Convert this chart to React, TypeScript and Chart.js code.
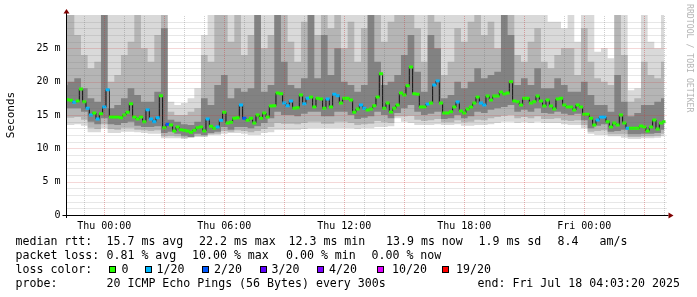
import React, { useEffect, useRef } from 'react';
import { Chart, registerables } from 'chart.js';

Chart.register(...registerables);

const MONO = '"DejaVu Sans Mono", monospace';

// ---- time axis (hours relative to Thu 00:00) ----
const AXIS_START_H = -1.89;
const AXIS_END_H = 28.06;
const MEDIAN_START_H = -11 / 6; // Wed 22:10
const MEDIAN_STEP_H = 1 / 6; // 10 min
const SMOKE_START_H = -2; // Wed 22:00
const SMOKE_STEP_H = 1 / 3; // 20 min

const xTickHours = [0, 6, 12, 18, 24];
const xTickLabels = ['Thu 00:00', 'Thu 06:00', 'Thu 12:00', 'Thu 18:00', 'Fri 00:00'];
const yTickValues = [0, 5, 10, 15, 20, 25];
const yTickLabels = ['0', '5 m', '10 m', '15 m', '20 m', '25 m'];

// ---- median rtt (ms), every 10 minutes ----
const medianRtt = [
  17.3, 17.2, 16.9, 17.1, 18.9, 17.0, 16.0, 15.0, 15.3, 14.4,
  15.2, 16.2, 18.8, 14.7, 14.7, 14.7, 14.6, 15.0, 15.4, 16.7,
  14.7, 14.4, 14.7, 14.0, 15.8, 14.4, 14.0, 14.6, 17.9, 13.1,
  13.6, 13.5, 12.6, 13.2, 12.8, 12.7, 12.6, 12.4, 12.7, 13.1,
  13.2, 12.6, 14.4, 13.3, 13.0, 13.2, 14.2, 15.4, 13.8, 13.9,
  14.5, 14.6, 16.5, 14.5, 14.2, 14.5, 13.8, 15.0, 14.5, 15.3,
  14.7, 16.35, 16.4, 18.3, 18.2, 16.8, 16.4, 17.1, 16.0, 16.1,
  18.0, 16.7, 17.5, 17.7, 16.2, 17.5, 17.4, 16.0, 17.4, 16.2,
  18.1, 17.9, 16.8, 17.5, 17.5, 17.25, 15.4, 15.9, 16.5, 16.0,
  15.75, 15.9, 16.4, 17.7, 21.2, 16.0, 16.8, 15.45, 16.0, 16.5,
  18.3, 18.0, 19.4, 22.2, 18.2, 18.1, 16.2, 16.2, 16.65, 16.8,
  19.5, 20.1, 16.8, 15.3, 15.3, 15.5, 16.2, 16.95, 15.6, 15.3,
  15.9, 16.2, 16.8, 17.7, 16.8, 16.5, 17.85, 17.25, 17.85, 17.85,
  18.45, 18.15, 18.3, 20.0, 17.1, 17.0, 16.5, 17.5, 17.5, 16.8,
  17.0, 17.85, 17.1, 16.35, 17.25, 16.35, 15.9, 17.4, 17.5, 16.5,
  16.2, 16.2, 15.75, 16.5, 16.2, 15.1, 15.1, 14.5, 13.5, 14.25,
  14.7, 14.7, 14.0, 13.2, 13.8, 13.5, 15.0, 13.8, 13.0, 13.0,
  13.0, 13.0, 13.35, 13.2, 12.6, 13.2, 14.25, 12.9, 13.8, 14.0,
];

// ---- lost pings out of 20, every 10 minutes ----
const lostPings = [
  0, 0, 1, 0, 0, 0, 1, 1, 0, 1,
  0, 1, 1, 0, 0, 0, 0, 0, 0, 0,
  0, 0, 0, 0, 1, 1, 1, 1, 0, 0,
  2, 0, 0, 0, 0, 0, 0, 0, 0, 0,
  0, 0, 1, 0, 0, 1, 1, 0, 0, 0,
  0, 0, 1, 2, 0, 0, 0, 0, 0, 0,
  0, 0, 0, 0, 0, 1, 1, 1, 0, 0,
  0, 1, 1, 0, 0, 0, 0, 0, 1, 0,
  1, 1, 0, 0, 0, 0, 0, 0, 1, 1,
  0, 0, 0, 0, 0, 0, 0, 0, 0, 0,
  0, 0, 0, 0, 0, 0, 0, 0, 1, 0,
  1, 1, 0, 0, 0, 0, 0, 1, 0, 0,
  0, 0, 0, 0, 1, 1, 0, 0, 0, 0,
  0, 0, 0, 0, 0, 0, 0, 0, 0, 0,
  0, 0, 0, 0, 0, 0, 0, 0, 0, 0,
  0, 0, 0, 0, 0, 0, 0, 0, 0, 1,
  1, 1, 0, 0, 0, 0, 0, 0, 1, 0,
  0, 0, 0, 0, 0, 0, 0, 0, 0, 0,
];

// ---- smoke (ping spread, ms), every 20 minutes ----
const smokeMax = [
  30, 30, 30, 30, 30, 30, 30, 30, 30, 30,
  30, 30, 30, 30, 30, 30, 17, 16.5, 16.8, 17.5,
  19, 27, 30, 30, 30, 30, 30, 30, 30, 30,
  30, 30, 30, 30, 30, 30, 30, 30, 30, 30,
  30, 30, 30, 30, 30, 30, 30, 30, 30, 30,
  30, 30, 30, 30, 30, 30, 30, 30, 30, 30,
  30, 30, 30, 30, 30, 30, 30, 30, 30, 30,
  30, 30, 30, 29, 29, 28, 30, 26, 30, 30,
  24.5, 25, 23.5, 30, 30, 18.7, 19, 30, 26, 25,
  30,
];
const smokeHigh = [
  30, 30, 27, 24, 22, 23, 30, 20, 21, 24,
  26, 30, 25, 23, 27, 30, 15.5, 15, 15, 15.5,
  16, 24, 23, 30, 30, 26, 30, 24, 27, 30,
  25, 27, 30, 30, 26, 23, 29, 30, 27, 30,
  28, 30, 25, 29, 23, 28, 30, 30, 26, 29,
  30, 30, 30, 28, 23, 30, 29, 21, 23, 28,
  26, 29, 30, 27, 29, 25, 30, 30, 24, 23,
  26, 28, 23, 22, 24, 25, 25, 21, 28, 23,
  20.5, 20, 19.5, 30, 24, 17, 17.5, 23, 21, 20.5,
  23,
];
const smokeUpper = [
  19.5, 20, 20.5, 19, 17.5, 17, 30, 16, 16.5, 17.5,
  19, 18, 17, 17, 18.5, 28, 14.3, 14, 13.6, 13.5,
  14, 17.5, 16.5, 19.5, 21, 17.5, 19, 18.5, 19, 30,
  18.5, 19.5, 30, 23, 19.5, 19, 20.5, 30, 20.5, 27,
  21, 25, 20, 19.5, 18.5, 19.5, 30, 23, 19.5, 20,
  21, 24, 27, 21.5, 18.5, 27, 25, 17.5, 18, 20,
  19, 20, 22, 20.5, 21, 21.5, 30, 27, 19.5, 20.5,
  19.5, 22, 19, 19, 20.5, 19.5, 18.5, 18.5, 20, 18,
  16.5, 16.5, 15.5, 21, 17, 14.8, 15.3, 16.5, 16.5, 17,
  17.5,
];
const smokeLower = [
  16, 16, 16, 15.5, 14, 13.6, 14.5, 13.6, 13.5, 13.8,
  14, 13.4, 13.2, 13.2, 13.3, 12.3, 12.5, 12.2, 11.9, 11.7,
  12.2, 12, 12.3, 12.5, 13.2, 12.8, 13.2, 13.2, 13, 13.3,
  13.8, 14.5, 15.5, 15, 15, 14.8, 15.2, 15.5, 15.5, 14.8,
  14.8, 15.5, 15.5, 15, 14.4, 14.6, 14.8, 15.5, 15, 14.5,
  15.3, 16, 16.5, 15.5, 15, 15.2, 15.5, 14.4, 14.5, 15,
  14.5, 14.8, 15.5, 15.3, 15.8, 16, 16.2, 16.5, 15.5, 15.8,
  15.5, 16, 15.3, 15.2, 15.5, 15.2, 15, 15.2, 14.2, 13,
  13.4, 13.6, 12.5, 12.6, 12.8, 12.1, 12.1, 12.2, 12.2, 12.3,
  12.8,
];
const smokeLowMid = [
  14.6, 14.6, 14.7, 14.3, 13.1, 12.9, 13.6, 12.9, 12.8, 13.1,
  13.1, 12.8, 12.7, 12.6, 12.7, 11.8, 11.9, 11.8, 11.6, 11.65,
  11.9, 11.8, 12.1, 12.2, 12.6, 12.5, 12.7, 12.6, 12.4, 12.6,
  12.9, 13.2, 13.8, 13.7, 13.7, 13.6, 13.8, 14, 14, 13.7,
  13.7, 14, 14, 13.8, 13.5, 13.6, 13.7, 14.1, 13.9, 13.8,
  14.8, 14.8, 14.9, 14.3, 14.1, 14.2, 14.4, 13.9, 13.9, 14.2,
  13.9, 14, 14.3, 14.2, 14.5, 14.7, 14.9, 15, 14.5, 14.7,
  14.5, 14.8, 14.4, 14.4, 14.5, 14.2, 14.1, 14.2, 13.5, 12.5,
  12.6, 12.7, 12.1, 12.1, 12.1, 11.7, 11.7, 11.8, 11.8, 11.9,
  12.2,
];
const smokeMin = [
  13.5, 13.5, 13.6, 13.4, 12.4, 12.4, 13, 12.3, 12.3, 12.5,
  12.5, 12.4, 12.3, 12.2, 12.2, 11.5, 11.5, 11.5, 11.4, 11.6,
  11.7, 11.7, 12, 12, 12.2, 12.3, 12.3, 12.2, 12, 12,
  12.3, 12.4, 12.8, 12.8, 12.8, 12.8, 12.9, 13, 13, 13,
  13, 13, 13, 13, 12.9, 13, 13, 13.2, 13.2, 13.3,
  14.5, 14, 13.8, 13.5, 13.5, 13.5, 13.6, 13.5, 13.5, 13.6,
  13.4, 13.4, 13.5, 13.5, 13.6, 13.8, 14, 14, 13.8, 13.9,
  13.8, 14, 13.8, 13.8, 13.8, 13.6, 13.5, 13.5, 13, 12.2,
  12, 12, 11.8, 11.8, 11.6, 11.4, 11.4, 11.5, 11.5, 11.6,
  11.8,
];

// ---- loss colour legend ----
const lossThresholds = [0, 1, 2, 3, 4, 10, 19];
const lossLabels = ['0', '1/20', '2/20', '3/20', '4/20', '10/20', '19/20'];
const lossColors = ['#26ff00', '#00b8ff', '#0059ff', '#5e00ff', '#7e00ff', '#dd00ff', '#ff0000'];

// ---- summary text ----
const rttLine = ['median rtt:', '15.7 ms avg', '22.2 ms max', '12.3 ms min', '13.9 ms now', '1.9 ms sd', '8.4', 'am/s'];
const lossLine = ['packet loss:', '0.81 % avg', '10.00 % max', '0.00 % min', '0.00 % now'];
const probeLine = ['probe:', '20 ICMP Echo Pings (56 Bytes) every 300s', 'end: Fri Jul 18 04:03:20 2025'];

// layout of the text columns (pixels)
const rttX = [15.5, 106.5, 199, 288.5, 386, 478.5, 557.5, 599.5];
const lossX = [15.5, 106.5, 192, 286, 371.5];
const probeX = [15.5, 106.5, 477.5];
const boxX = [109, 144.5, 202, 259.5, 317, 377, 442];
const boxLabelX = [121.5, 156.5, 214, 271.5, 329, 392, 456];

const colorForLoss = (n: number) => {
  let c = lossColors[0];
  lossThresholds.forEach((t, k) => {
    if (n >= t) c = lossColors[k];
  });
  return c;
};

const series = (vals: number[], start: number, step: number) =>
  vals.map((v, i) => ({ x: start + i * step, y: v }));

const GRID_MINOR = 'rgba(110,110,110,0.33)';
const GRID_MAJOR = 'rgba(200,50,50,0.38)';

// dotted rrd-style grid, drawn over the smoke from the scales' own ticks
const gridPlugin = {
  id: 'rrdGrid',
  afterDatasetsDraw(chart: any) {
    const { ctx, chartArea, scales } = chart;
    const { left, right, top, bottom } = chartArea;
    ctx.save();
    ctx.lineWidth = 1;
    ctx.setLineDash([1, 1]);
    scales.x.ticks.forEach((t: any) => {
      const px = Math.round(scales.x.getPixelForValue(t.value)) + 0.5;
      if (px <= left + 1 || px > right + 1) return;
      ctx.strokeStyle = Math.abs(t.value % 3) < 1e-6 ? GRID_MAJOR : GRID_MINOR;
      ctx.beginPath();
      ctx.moveTo(px, bottom);
      ctx.lineTo(px, top);
      ctx.stroke();
    });
    scales.y.ticks.forEach((t: any) => {
      if (t.value <= 0 || t.value >= 30) return;
      const py = Math.round(scales.y.getPixelForValue(t.value)) + 0.5;
      ctx.strokeStyle = t.value % 5 === 0 ? GRID_MAJOR : GRID_MINOR;
      ctx.beginPath();
      ctx.moveTo(left + 1, py);
      ctx.lineTo(right + 2, py);
      ctx.stroke();
    });
    ctx.restore();
  },
};

const axesPlugin = {
  id: 'rrdAxes',
  afterDraw(chart: any) {
    const { ctx, chartArea } = chart;
    const { left, right, top, bottom } = chartArea;
    const ax = Math.floor(left) + 0.5;
    const ay = Math.round(bottom) + 0.5;
    ctx.save();
    ctx.setLineDash([]);
    ctx.strokeStyle = '#000000';
    ctx.lineWidth = 1;
    ctx.beginPath();
    ctx.moveTo(left - 4, ay);
    ctx.lineTo(right + 3, ay);
    ctx.moveTo(ax, bottom + 3);
    ctx.lineTo(ax, top - 2);
    ctx.stroke();
    ctx.fillStyle = '#7f0000';
    ctx.beginPath();
    ctx.moveTo(ax, top - 6);
    ctx.lineTo(ax - 3, top - 1.5);
    ctx.lineTo(ax + 3, top - 1.5);
    ctx.closePath();
    ctx.fill();
    ctx.beginPath();
    ctx.moveTo(right + 8, ay);
    ctx.lineTo(right + 3, ay - 3);
    ctx.lineTo(right + 3, ay + 3);
    ctx.closePath();
    ctx.fill();
    ctx.restore();
  },
};

const textStyle: React.CSSProperties = {
  position: 'absolute',
  fontFamily: MONO,
  fontSize: '11.6px',
  lineHeight: '14px',
  color: '#000',
  whiteSpace: 'pre',
};

export default function App() {
  const ref = useRef<HTMLCanvasElement | null>(null);

  useEffect(() => {
    const canvas = ref.current;
    if (!canvas) return;
    const smoke = (vals: number[], fill: any, bg: string) => ({
      type: 'line' as const,
      data: series(vals, SMOKE_START_H, SMOKE_STEP_H),
      borderWidth: 0,
      borderColor: 'rgba(0,0,0,0)',
      backgroundColor: bg,
      pointRadius: 0,
      pointHoverRadius: 0,
      stepped: 'middle' as const,
      fill,
    });
    const chart = new Chart(canvas, {
      type: 'line',
      data: {
        datasets: [
          {
            data: series(medianRtt, MEDIAN_START_H, MEDIAN_STEP_H),
            showLine: false,
            pointStyle: 'line',
            pointRadius: 2,
            pointHoverRadius: 2,
            pointBorderWidth: 3,
            pointBorderColor: (c: any) => colorForLoss(lostPings[c.dataIndex] ?? 0),
            pointBackgroundColor: 'rgba(0,0,0,0)',
          } as any,
          {
            data: series(medianRtt, MEDIAN_START_H, MEDIAN_STEP_H),
            borderColor: '#101010',
            borderWidth: 1,
            pointRadius: 0,
            pointHoverRadius: 0,
            stepped: 'middle',
            fill: false,
          },
          smoke(smokeUpper, 6, '#828282'),
          smoke(smokeHigh, 7, '#b5b5b5'),
          smoke(smokeMax, 8, '#d9d9d9'),
          smoke(smokeLower, false, 'rgba(0,0,0,0)'),
          smoke(smokeLower, false, 'rgba(0,0,0,0)'),
          smoke(smokeLowMid, false, 'rgba(0,0,0,0)'),
          smoke(smokeMin, false, 'rgba(0,0,0,0)'),
        ],
      },
      options: {
        responsive: false,
        maintainAspectRatio: false,
        animation: false,
        devicePixelRatio: 1,
        events: [],
        layout: { padding: { left: 0, right: 31.5, top: 15, bottom: 0 } },
        plugins: {
          legend: { display: false },
          tooltip: { enabled: false },
        },
        scales: {
          x: {
            type: 'linear',
            position: 'bottom',
            min: AXIS_START_H,
            max: AXIS_END_H,
            afterFit: (s: any) => {
              s.height = 82;
            },
            ticks: {
              stepSize: 1,
              autoSkip: false,
              includeBounds: false,
              maxRotation: 0,
              minRotation: 0,
              padding: 5,
              color: '#000',
              font: { family: MONO, size: 10 },
              callback: (v: any) => {
                const k = xTickHours.indexOf(Number(v));
                return k >= 0 ? xTickLabels[k] : '';
              },
            },
            grid: { display: false, drawTicks: false },
            border: { display: false },
          } as any,
          y: {
            type: 'linear',
            position: 'left',
            min: 0,
            max: 30,
            afterFit: (s: any) => {
              s.width = 66.5;
            },
            title: {
              display: true,
              text: 'Seconds',
              color: '#000',
              font: { family: MONO, size: 11 },
              padding: { top: 5, bottom: 0 },
            },
            ticks: {
              stepSize: 1,
              autoSkip: false,
              includeBounds: false,
              padding: 6,
              color: '#000',
              font: { family: MONO, size: 10 },
              callback: (v: any) => {
                const k = yTickValues.indexOf(Number(v));
                return k >= 0 ? yTickLabels[k] : '';
              },
            },
            grid: { display: false, drawTicks: false },
            border: { display: false },
          } as any,
        },
      },
      plugins: [gridPlugin, axesPlugin],
    });
    return () => chart.destroy();
  }, []);

  return (
    <div
      style={{
        position: 'absolute',
        left: 0,
        top: 0,
        width: 697,
        height: 297,
        background: '#ffffff',
        overflow: 'hidden',
      }}
    >
      <canvas
        ref={ref}
        width={697}
        height={297}
        style={{ position: 'absolute', left: 0, top: 0, width: 697, height: 297 }}
      />
      <div
        style={{
          position: 'absolute',
          left: 694,
          top: 4,
          transform: 'rotate(90deg)',
          transformOrigin: '0 0',
          fontFamily: MONO,
          fontSize: '8.2px',
          lineHeight: '9px',
          color: '#b4b4b4',
          whiteSpace: 'nowrap',
        }}
      >
        RRDTOOL / TOBI OETIKER
      </div>
      {rttLine.map((t, k) => (
        <span key={'r' + k} style={{ ...textStyle, left: rttX[k], top: 234 }}>
          {t}
        </span>
      ))}
      {lossLine.map((t, k) => (
        <span key={'l' + k} style={{ ...textStyle, left: lossX[k], top: 248 }}>
          {t}
        </span>
      ))}
      <span style={{ ...textStyle, left: 15.5, top: 262 }}>loss color:</span>
      {lossLabels.map((t, k) => (
        <React.Fragment key={'c' + k}>
          <span
            style={{
              position: 'absolute',
              left: boxX[k],
              top: 266,
              width: 5,
              height: 5,
              border: '1px solid #000',
              background: lossColors[k],
            }}
          />
          <span style={{ ...textStyle, left: boxLabelX[k], top: 262 }}>{t}</span>
        </React.Fragment>
      ))}
      {probeLine.map((t, k) => (
        <span key={'p' + k} style={{ ...textStyle, left: probeX[k], top: 276 }}>
          {t}
        </span>
      ))}
    </div>
  );
}
